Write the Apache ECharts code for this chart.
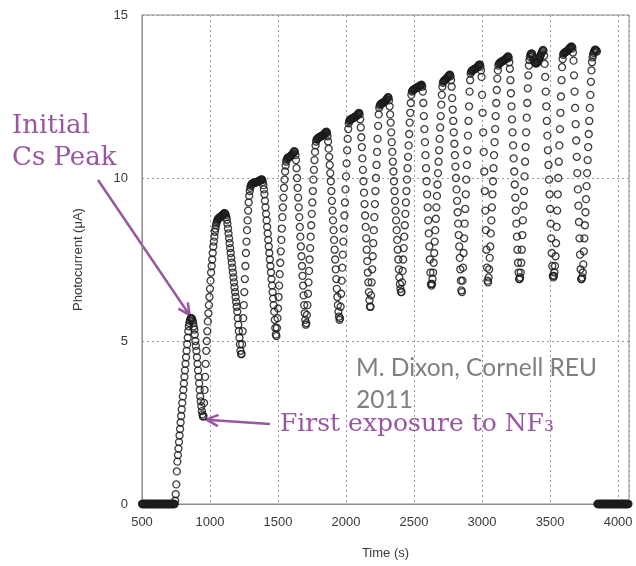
<!DOCTYPE html>
<html style="height: 100%">
<head>
    <meta charset="utf-8">
</head>
<body style="height: 100%; margin: 0; background: #fff">
<div id="container" style="width: 636px; height: 566px"></div>
<script type="text/javascript" src="https://cdn.jsdelivr.net/npm/echarts@6/dist/echarts.min.js"></script>
<script type="text/javascript">

    // photocurrent (uA), one sample every DT seconds
    var DT = 4;

    // segment start times (s): flat lead-in, 14 Cs/NF3 cycles, flat tail
    var leadStart = 500;
    var cycleStarts = [740, 952, 1232, 1488, 1708, 1956, 2180, 2408, 2628, 2852, 3044, 3276, 3524, 3732];
    var tailStart = 3848;

    var lead = [0,0,0,0,0,0,0,0,0,0,0,0,0,0,0,0,0,0,0,0,0,0,0,0,0,0,0,0,0,0,
                0,0,0,0,0,0,0,0,0,0,0,0,0,0,0,0,0,0,0,0,0,0,0,0,0,0,0,0,0,0];
    var tail = [0,0,0,0,0,0,0,0,0,0,0,0,0,0,0,0,0,0,0,0,0,0,0,0,0,0,0,0,0,0,
                0,0,0,0,0,0,0,0,0,0,0,0,0,0,0,0,0,0,0,0,0,0,0,0,0,0,0,0];

    var c1 = [0,0.1,0.3,0.6,1.0,1.3,1.5,1.7,1.9,2.1,2.3,2.5,2.7,2.9,3.1,3.3,3.5,3.7,3.9,4.1,4.3,4.5,4.7,4.9,5.1,5.3,5.45,5.55,5.62,5.67,5.7,5.7,5.68,5.62,5.55,5.45,5.35,5.2,5.0,4.85,4.7,4.5,4.3,4.1,3.9,3.7,3.5,3.3,3.15,3.0,2.85,2.75,2.68];
    var c2 = [2.7,3.1,3.5,3.9,4.3,4.7,5.0,5.3,5.6,5.85,6.1,6.35,6.6,6.85,7.1,7.3,7.5,7.7,7.9,8.05,8.2,8.35,8.45,8.55,8.62,8.68,8.72,8.75,8.77,8.78,8.8,8.8,8.82,8.83,8.85,8.86,8.88,8.9,8.92,8.92,8.9,8.86,8.8,8.72,8.6,8.45,8.3,8.15,8.0,7.85,7.7,7.55,7.4,7.25,7.1,6.95,6.8,6.65,6.5,6.35,6.2,6.05,5.9,5.7,5.5,5.3,5.1,4.9,4.7,4.6];
    var c3 = [4.6,4.9,5.3,5.7,6.1,6.5,6.9,7.3,7.7,8.05,8.4,8.7,9.0,9.25,9.45,9.6,9.7,9.76,9.8,9.82,9.83,9.84,9.85,9.85,9.86,9.86,9.87,9.87,9.88,9.88,9.89,9.9,9.9,9.92,9.93,9.94,9.95,9.96,9.94,9.88,9.78,9.65,9.5,9.3,9.1,8.9,8.7,8.5,8.3,8.1,7.9,7.7,7.5,7.3,7.1,6.9,6.7,6.5,6.3,6.1,5.9,5.65,5.4,5.2];
    var c4 = [5.15,5.4,5.7,6.0,6.35,6.7,7.05,7.4,7.75,8.1,8.45,8.8,9.1,9.4,9.7,9.95,10.2,10.38,10.5,10.56,10.6,10.62,10.63,10.64,10.65,10.66,10.67,10.68,10.7,10.72,10.74,10.77,10.8,10.82,10.8,10.7,10.55,10.3,10.0,9.7,9.4,9.1,8.8,8.5,8.2,7.9,7.6,7.3,7.0,6.7,6.4,6.1,5.85,5.65,5.5];
    var c5 = [5.55,5.8,6.1,6.45,6.8,7.15,7.5,7.85,8.2,8.55,8.9,9.25,9.6,9.95,10.25,10.55,10.8,11.0,11.12,11.18,11.2,11.22,11.23,11.24,11.25,11.26,11.27,11.28,11.29,11.3,11.31,11.32,11.33,11.35,11.37,11.39,11.41,11.42,11.38,11.28,11.12,10.9,10.65,10.4,10.15,9.9,9.6,9.3,9.0,8.7,8.4,8.1,7.8,7.5,7.2,6.9,6.6,6.35,6.1,5.9,5.75,5.65];
    var c6 = [5.7,6.05,6.45,6.85,7.25,7.65,8.05,8.45,8.85,9.25,9.65,10.05,10.45,10.85,11.2,11.5,11.68,11.75,11.78,11.8,11.8,11.81,11.82,11.83,11.84,11.85,11.86,11.87,11.88,11.89,11.9,11.92,11.94,11.96,11.98,12.0,11.95,11.8,11.55,11.25,10.95,10.6,10.25,9.9,9.55,9.2,8.85,8.5,8.15,7.8,7.45,7.1,6.8,6.5,6.25,6.05];
    var c7 = [6.05,6.4,6.8,7.2,7.6,8.0,8.4,8.8,9.2,9.6,10.0,10.4,10.8,11.2,11.6,11.95,12.15,12.22,12.25,12.27,12.28,12.29,12.3,12.31,12.32,12.33,12.34,12.36,12.38,12.4,12.42,12.45,12.48,12.47,12.38,12.2,11.95,11.7,11.4,11.1,10.8,10.5,10.2,9.9,9.6,9.3,9.0,8.7,8.4,8.1,7.8,7.5,7.2,6.95,6.75,6.6,6.5];
    var c8 = [6.5,6.8,7.15,7.5,7.85,8.2,8.55,8.9,9.25,9.6,9.95,10.3,10.65,11.0,11.35,11.7,12.0,12.3,12.55,12.65,12.68,12.7,12.71,12.72,12.73,12.74,12.75,12.76,12.77,12.78,12.79,12.8,12.81,12.82,12.83,12.84,12.85,12.86,12.8,12.65,12.3,11.9,11.5,11.1,10.7,10.3,9.9,9.5,9.1,8.7,8.3,7.9,7.5,7.1,6.75];
    var c9 = [6.7,6.75,6.9,7.1,7.4,7.7,8.05,8.4,8.75,9.1,9.45,9.8,10.15,10.5,10.85,11.2,11.55,11.9,12.25,12.55,12.8,12.92,12.96,12.98,13.0,13.01,13.02,13.04,13.06,13.08,13.1,13.12,13.14,13.16,13.17,13.12,13.0,12.8,12.45,12.1,11.75,11.4,11.05,10.7,10.35,10.0,9.65,9.3,8.95,8.6,8.25,7.9,7.55,7.2,6.85,6.55];
    var c10 = [6.5,6.85,7.25,7.7,8.15,8.6,9.05,9.5,9.95,10.4,10.85,11.3,11.75,12.2,12.65,13.0,13.2,13.26,13.28,13.3,13.31,13.32,13.33,13.34,13.35,13.36,13.37,13.38,13.4,13.42,13.44,13.46,13.48,13.48,13.42,13.3,13.1,12.55,12.0,11.4,10.8,10.2,9.6,9.0,8.4,7.8,7.25,6.85];
    var c11 = [6.8,6.95,7.2,7.55,7.9,8.3,8.7,9.1,9.5,9.9,10.3,10.7,11.1,11.5,11.9,12.3,12.7,13.05,13.3,13.45,13.5,13.52,13.54,13.55,13.56,13.57,13.58,13.59,13.6,13.61,13.62,13.63,13.64,13.66,13.68,13.7,13.72,13.73,13.68,13.55,13.35,13.0,12.6,12.2,11.8,11.4,11.0,10.6,10.2,9.8,9.4,9.0,8.6,8.2,7.8,7.4,7.1,6.9];
    var c12 = [6.9,6.95,7.1,7.4,7.8,8.25,8.7,9.15,9.6,10.05,10.5,10.95,11.4,11.85,12.3,12.75,13.15,13.45,13.62,13.72,13.78,13.81,13.82,13.8,13.75,13.68,13.62,13.57,13.54,13.52,13.52,13.52,13.53,13.55,13.58,13.62,13.66,13.7,13.74,13.78,13.82,13.86,13.9,13.93,13.9,13.75,13.5,13.1,12.65,12.2,11.75,11.3,10.85,10.4,9.95,9.5,9.05,8.6,8.15,7.7,7.3,7.0];
    var c13 = [6.95,7.0,7.1,7.3,7.6,8.0,8.5,9.0,9.5,10.0,10.5,11.0,11.5,12.0,12.5,13.0,13.4,13.65,13.78,13.82,13.84,13.85,13.86,13.87,13.88,13.89,13.9,13.92,13.94,13.96,13.98,14.0,14.02,14.03,14.03,13.98,13.85,13.6,13.15,12.65,12.15,11.65,11.15,10.65,10.15,9.65,9.15,8.65,8.15,7.65,7.2,6.9];
    var c14 = [6.9,6.95,7.1,7.35,7.75,8.15,8.55,8.95,9.35,9.75,10.15,10.55,10.95,11.35,11.75,12.15,12.55,12.95,13.3,13.55,13.7,13.78,13.84,13.88,13.92,13.94,13.93,13.9,13.88];

    var xTicks = [500, 1000, 1500, 2000, 2500, 3000, 3500, 4000];
    var yTicks = [0, 5, 10, 15];

    // peak and trough the purple arrows point at (time s, uA)
    var csPeak = [865, 5.7];
    var nf3Point = [952, 2.68];

    var cycles = [c1, c2, c3, c4, c5, c6, c7, c8, c9, c10, c11, c12, c13, c14];
    var segStarts = [leadStart].concat(cycleStarts, [tailStart]);
    var segValues = [lead].concat(cycles, [tail]);

    var points = [];
    segValues.forEach(function (vals, k) {
        vals.forEach(function (v, i) {
            points.push([segStarts[k] + i * DT, v]);
        });
    });

    var myChart = echarts.init(document.getElementById('container'), null, {renderer: 'canvas'});

    var axisFont = {fontFamily: 'Liberation Sans', fontSize: 13, color: '#3a3a3a'};
    var frameColor = '#8c8c8c';
    var purple = '#9a55a3';

    var option = {
        animation: false,
        grid: {
            left: 142, right: 7, top: 15, bottom: 62,
            show: true, borderColor: frameColor, borderWidth: 1
        },
        xAxis: {
            type: 'value',
            min: xTicks[0],
            max: 4080,
            interval: 500,
            name: 'Time (s)',
            nameLocation: 'middle',
            nameGap: 43,
            nameTextStyle: {fontFamily: 'Liberation Sans', fontSize: 13, color: '#3a3a3a'},
            axisLine: {lineStyle: {color: frameColor}},
            axisTick: {show: false},
            axisLabel: Object.assign({
                margin: 12,
                formatter: function (v) { return xTicks.indexOf(v) >= 0 ? String(v) : ''; }
            }, axisFont),
            splitLine: {show: true, lineStyle: {color: '#9a9a9a', type: [2, 3], width: 1}}
        },
        yAxis: {
            type: 'value',
            min: yTicks[0],
            max: yTicks[yTicks.length - 1],
            interval: 5,
            name: 'Photocurrent (\u03bcA)',
            nameLocation: 'middle',
            nameGap: 57,
            nameTextStyle: {fontFamily: 'Liberation Sans', fontSize: 13, color: '#3a3a3a'},
            axisLine: {show: true, lineStyle: {color: frameColor}},
            axisTick: {show: false},
            axisLabel: Object.assign({margin: 14}, axisFont),
            splitLine: {show: true, lineStyle: {color: '#9a9a9a', type: [2, 3], width: 1}}
        },
        series: [{
            type: 'scatter',
            clip: false,
            symbol: 'circle',
            symbolSize: 7,
            itemStyle: {color: 'rgba(0,0,0,0)', borderColor: '#1c1c1c', borderWidth: 1.3, opacity: 0.85},
            emphasis: {disabled: true},
            data: points
        }]
    };

    myChart.setOption(option);

    function arrow(x1, y1, x2, y2) {
        var a = Math.atan2(y2 - y1, x2 - x1);
        var L = 13, w = 0.45;
        return [{
            type: 'line',
            shape: {x1: x1, y1: y1, x2: x2, y2: y2},
            style: {stroke: purple, lineWidth: 2.5}
        }, {
            type: 'polyline',
            shape: {points: [
                [x2 - L * Math.cos(a - w), y2 - L * Math.sin(a - w)],
                [x2, y2],
                [x2 - L * Math.cos(a + w), y2 - L * Math.sin(a + w)]
            ]},
            style: {stroke: purple, lineWidth: 2.5, fill: null}
        }];
    }

    function label(text, x, y, font, color) {
        return {
            type: 'text', x: x, y: y,
            style: {text: text, font: font, fill: color, align: 'left', verticalAlign: 'middle'}
        };
    }

    var peakPx = myChart.convertToPixel({gridIndex: 0}, csPeak);
    var nf3Px = myChart.convertToPixel({gridIndex: 0}, nf3Point);

    var graphics = []
        .concat(arrow(98, 180, peakPx[0] - 2, peakPx[1] - 3))
        .concat(arrow(270, 424, nf3Px[0] + 3, nf3Px[1] + 3))
        .concat([
            label('Initial', 12, 126, '26px "DejaVu Serif"', purple),
            label('Cs Peak', 12, 158, '26px "DejaVu Serif"', purple),
            label('First exposure to NF\u2083', 280, 424, '25px "DejaVu Serif"', purple),
            label('M. Dixon, Cornell REU', 356, 368, '24.5px Lato', '#808080'),
            label('2011', 356, 400, '24.5px Lato', '#808080')
        ]);

    myChart.setOption({graphic: graphics});

</script>
</body>
</html>
